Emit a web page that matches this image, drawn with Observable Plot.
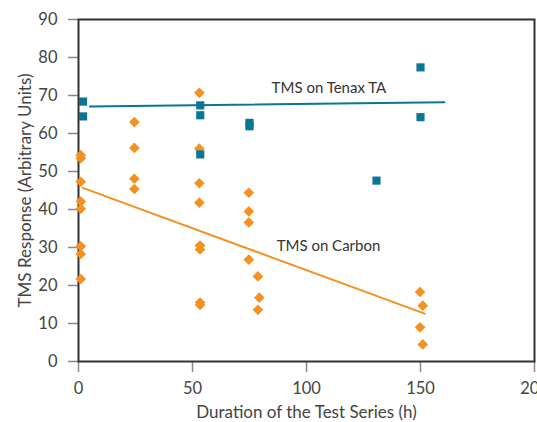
<!DOCTYPE html>
<html><head><meta charset="utf-8">
<script src="https://cdn.jsdelivr.net/npm/d3@7"></script>
<script src="https://cdn.jsdelivr.net/npm/@observablehq/plot@0.6"></script>
<style>body{margin:0;background:#fff}</style>
</head><body><div id="chart"></div>
<script>
const tenaxX = [2, 2, 53.4, 53.4, 53.4, 75, 75, 130.7, 150, 150];
const tenaxY = [68.4, 64.5, 67.4, 64.8, 54.5, 62.8, 61.9, 47.6, 77.4, 64.3];
const carbonX = [1, 1, 1, 1, 1, 1, 1, 1,
  24.5, 24.5, 24.5, 24.5,
  53, 53, 53, 53, 53.3, 53.3, 53.3, 53.3,
  74.7, 74.7, 74.7, 74.7, 78.7, 78.7, 79.3,
  149.8, 149.8, 151, 151];
const carbonY = [54.3, 53.5, 47.3, 42.1, 40.2, 30.3, 28.3, 21.7,
  63.0, 56.2, 48.1, 45.4,
  70.7, 56.0, 46.9, 41.8, 30.5, 29.5, 15.5, 14.9,
  44.4, 39.5, 36.6, 26.8, 22.4, 13.6, 16.8,
  18.3, 9.0, 14.7, 4.5];
const tenaxLineX = [5, 160.5];
const tenaxLineY = [67.1, 68.2];
const carbonLineX = [1.9, 151.8];
const carbonLineY = [45.7, 12.6];
const labelText = ["TMS on Tenax TA", "TMS on Carbon"];
const labelX = [84.7, 86.9];
const labelY = [71.8, 30.3];
const xTicks = [0, 50, 100, 150, 200];
const yTicks = [0, 10, 20, 30, 40, 50, 60, 70, 80, 90];

const teal = "#0a7594", orange = "#f39121";
const tenax = tenaxX.map((x, i) => ({x, y: tenaxY[i]}));
const carbon = carbonX.map((x, i) => ({x, y: carbonY[i]}));
const tLine = tenaxLineX.map((x, i) => ({x, y: tenaxLineY[i]}));
const cLine = carbonLineX.map((x, i) => ({x, y: carbonLineY[i]}));
const labels = labelText.map((t, i) => ({t, x: labelX[i], y: labelY[i]}));

const chart = Plot.plot({
  width: 537, height: 422,
  marginLeft: 78, marginRight: 3, marginTop: 19, marginBottom: 61,
  style: {fontFamily: "Lato, sans-serif", fontSize: "15px", color: "#444", background: "#fff"},
  x: {domain: [0, 200]},
  y: {domain: [0, 90]},
  marks: [
    Plot.axisX({ticks: xTicks, tickSize: 11, tickPadding: 10, stroke: "#888", strokeWidth: 1.5,
      fontSize: 16.5, label: null}),
    Plot.axisX({ticks: [], tickSize: 0, fontSize: 17,
      label: "Duration of the Test Series (h)", labelAnchor: "center", labelArrow: "none", labelOffset: 56}),
    Plot.axisY({ticks: yTicks, tickSize: 10, tickPadding: 11, stroke: "#888", strokeWidth: 1.5,
      fontSize: 16.5, label: null}),
    Plot.axisY({ticks: [], tickSize: 0, fontSize: 17,
      label: "TMS Response (Arbitrary Units)", labelAnchor: "center", labelArrow: "none", labelOffset: 60}),
    Plot.frame({stroke: "#333", strokeWidth: 2}),
    Plot.line(tLine, {x: "x", y: "y", stroke: teal, strokeWidth: 2}),
    Plot.line(cLine, {x: "x", y: "y", stroke: orange, strokeWidth: 2}),
    Plot.dot(carbon, {x: "x", y: "y", symbol: "diamond2", r: 4.8, fill: orange}),
    Plot.dot(tenax, {x: "x", y: "y", symbol: "square", r: 4.6, fill: teal}),
    Plot.text(labels, {x: "x", y: "y", text: "t", textAnchor: "start", fill: "#333", fontSize: 15})
  ]
});
document.getElementById("chart").append(chart);
</script>
</body></html>
